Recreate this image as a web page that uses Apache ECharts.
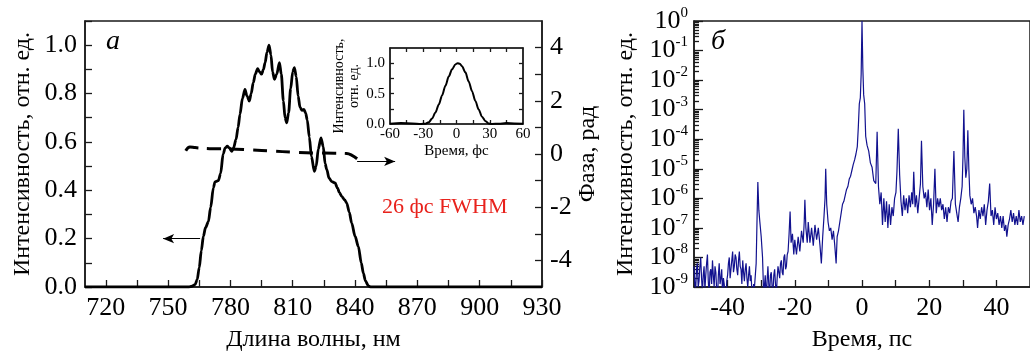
<!DOCTYPE html>
<html>
<head>
<meta charset="utf-8">
<script src="https://cdn.jsdelivr.net/npm/echarts@6.0.0/dist/echarts.min.js"></script>
<style>
html,body{margin:0;padding:0;background:#fff;}
#chart{width:1030px;height:363px;}
</style>
</head>
<body>
<div id="chart"></div>
<script>
var chart = echarts.init(document.getElementById('chart'));
var FONT = 'Liberation Serif';

// panel a: spectrum [nm, intensity]
var spectrum = [[710,0],[760,0],[761.5,0.003],[763,0.01],[764,0.03],[765,0.08],[766,0.15],[767,0.21],[768,0.245],
 [769.4,0.27],[770.5,0.33],[771.8,0.41],[772.6,0.435],[774.2,0.44],[775.3,0.47],[776.5,0.55],[777.5,0.575],
 [778.5,0.582],[779.5,0.575],[780.6,0.561],[781.5,0.575],[782.7,0.61],[783.7,0.66],[784.6,0.714],[785.8,0.78],
 [787,0.817],[788,0.79],[789.1,0.769],[790,0.8],[791,0.845],[792,0.88],[793.1,0.903],[794,0.89],[795,0.88],
 [795.9,0.9],[796.7,0.928],[797.6,0.97],[798.6,1.0],[799.5,0.96],[800.3,0.89],[801.2,0.859],[802.3,0.88],
 [803.6,0.928],[804.5,0.88],[805.5,0.77],[806.3,0.7],[807.1,0.679],[808,0.72],[809,0.82],[810,0.89],[810.8,0.907],
 [811.7,0.87],[812.6,0.79],[813.5,0.743],[814.5,0.73],[815.4,0.734],[816.2,0.72],[817,0.69],[818,0.62],[819,0.54],
 [820.4,0.478],[821.3,0.5],[822.3,0.57],[823.6,0.617],[824.7,0.58],[825.6,0.51],[826.4,0.485],[827.5,0.45],
 [828.8,0.436],[830.4,0.43],[831.5,0.41],[832.5,0.39],[833.6,0.375],[835,0.36],[836,0.347],[837.2,0.31],
 [838.4,0.264],[840,0.21],[841.6,0.167],[843,0.1],[844,0.057],[845,0.025],[846.4,0.005],[847.5,0],[930,0]];

// panel a: spectral phase [nm, rad]
var phase = [[758.5,0.12],[760.5,0.26],[763,0.24],[770,0.2],[780,0.19],[790,0.15],[800,0.11],[810,0.07],
 [820,0.04],[830,0.03],[836,0.02],[838.5,-0.05],[841,-0.18]];

// inset: pulse [fs, intensity]
var pulse = [[-60,0.005],[-50,0.015],[-40,0.01],[-32,0],[-28,0.005],[-25,0.03],[-22,0.09],[-19,0.19],[-16,0.32],
 [-13,0.47],[-10,0.63],[-7,0.78],[-4,0.9],[-1,0.98],[1,1.0],[3,0.99],[5,0.95],[8,0.85],[11,0.7],[14,0.54],
 [17,0.38],[20,0.24],[23,0.12],[26,0.05],[29,0.01],[32,0],[38,0.005],[45,0.015],[52,0.01],[60,0.005]];

// panel б: trace [ps, log10 intensity]
var traceLog = [[-50,-8.3],[-49.75,-8.9],[-49.5,-9.1],[-49.25,-8.4],[-49,-8.2],[-48.75,-9.0],[-48.5,-8.8],
 [-48.25,-8.3],[-48,-8.0],[-47.75,-8.7],[-47.5,-9.2],[-47.25,-8.6],[-47,-8.3],[-46.75,-9.1],[-46.5,-8.6],
 [-46.25,-8.2],[-46,-7.9],[-45.75,-8.8],[-45.5,-9.3],[-45.25,-8.5],[-45,-8.4],[-44.75,-8.9],[-44.5,-8.1],
 [-44.25,-8.6],[-44,-9.0],[-43.75,-8.3],[-43.5,-8.5],[-43.25,-9.1],[-43,-9.4],[-42.75,-8.6],[-42.5,-8.2],
 [-42.25,-8.9],[-42,-8.7],[-41.75,-8.4],[-41.5,-9.3],[-41.25,-8.7],[-41,-8.9],[-40.75,-9.4],[-40.5,-9.5],
 [-40.25,-8.8],[-40,-8.6],[-39.75,-8.2],[-39.5,-8.0],[-39.25,-8.7],[-39,-8.4],[-38.75,-8.1],[-38.5,-7.8],
 [-38.25,-8.5],[-38,-8.3],[-37.75,-7.9],[-37.5,-8.0],[-37.25,-8.4],[-37,-8.6],[-36.75,-8.1],[-36.5,-7.8],
 [-36.25,-8.3],[-36,-8.4],[-35.75,-8.9],[-35.5,-8.1],[-35.25,-8.5],[-35,-8.8],[-34.75,-8.4],[-34.5,-8.2],
 [-34.25,-8.7],[-34,-9.0],[-33.75,-8.6],[-33.5,-8.3],[-33.25,-8.8],[-33,-8.6],[-32.75,-9.2],[-32.5,-9.4],
 [-32.25,-8.9],[-32,-9.0],[-31.75,-8.6],[-31.5,-8.2],[-31.2,-6.5],[-31,-5.45],[-30.7,-6.4],[-30.4,-6.8],
 [-30,-7.3],[-29.6,-8.0],[-29.2,-9.5],[-29,-8.9],[-28.8,-8.6],[-28.6,-9.1],[-28.4,-9.2],[-28.2,-8.7],[-28,-8.3],
 [-27.75,-8.9],[-27.5,-9.3],[-27.25,-8.6],[-27,-8.5],[-26.75,-9.0],[-26.5,-9.2],[-26.25,-8.6],[-26,-8.4],
 [-25.75,-8.9],[-25.5,-9.3],[-25.25,-8.7],[-25,-8.3],[-24.75,-8.5],[-24.5,-8.7],[-24.25,-8.2],[-24,-8.1],
 [-23.75,-8.5],[-23.5,-8.6],[-23.25,-8.0],[-23,-7.9],[-22.75,-8.4],[-22.5,-8.3],[-22.25,-7.9],[-22,-7.8],
 [-21.7,-7.2],[-21.4,-6.45],
 [-21.1,-7.5],[-20.7,-7.2],[-20.3,-7.9],[-20,-7.4],[-19.5,-7.9],[-19,-7.3],[-18.5,-7.8],[-18,-7.1],[-17.5,-7.5],
 [-17.2,-6.8],[-17,-6.05],[-16.7,-7.0],[-16.3,-7.5],[-16,-6.8],[-15.5,-7.5],[-15,-7.0],[-14.5,-7.6],[-14,-6.9],
 [-13.5,-7.4],[-13,-7.0],[-12.5,-7.6],[-12.1,-8.2],[-11.7,-7.3],[-11.3,-6.6],[-11,-6.0],[-10.8,-5.0],[-10.5,-6.2],
 [-10.1,-6.8],[-9.7,-7.1],[-9.3,-7.0],[-8.9,-7.4],[-8.5,-7.1],[-8.1,-7.6],[-7.7,-8.2],[-7.4,-7.3],[-7,-7.1],
 [-6.6,-6.8],[-6.2,-6.5],[-5.8,-6.2],[-5.4,-6.1],[-5,-5.9],[-4.6,-5.7],[-4.2,-5.6],[-3.8,-5.35],[-3.4,-5.25],
 [-3,-5.05],[-2.6,-4.85],[-2.2,-4.7],[-1.8,-4.5],[-1.4,-4.25],[-1.1,-3.6],[-0.8,-2.8],[-0.5,-2.6],[-0.25,-1.8],
 [0,0],[0.25,-1.6],[0.5,-2.5],[0.8,-2.8],[1.1,-3.9],[1.5,-4.2],[2,-4.4],[2.5,-4.8],[3,-4.95],[3.5,-5.4],
 [4.1,-5.5],[4.5,-3.75],[4.9,-5.6],[5.3,-6.2],[5.7,-5.8],[6.1,-6.9],[6.5,-6.0],[6.9,-6.8],[7.3,-6.1],[7.7,-7.0],
 [8.1,-6.2],[8.5,-6.9],[8.9,-6.3],[9.3,-6.6],[9.7,-6.0],[10.1,-5.8],[10.4,-5.1],[10.8,-3.65],[11.2,-5.2],
 [11.6,-6.1],[12,-6.6],[12.4,-5.9],[12.8,-6.4],[13.2,-6.0],[13.6,-6.5],[14,-5.9],[14.4,-6.3],[14.8,-5.8],
 [15.1,-6.2],[15.4,-5.1],[15.8,-6.3],[16.2,-5.9],[16.6,-6.5],[17,-6.0],[17.4,-5.5],[17.7,-4.05],[18.1,-5.6],
 [18.5,-6.0],[18.9,-5.8],[19.3,-6.3],[19.7,-5.7],[20.1,-6.4],[20.5,-6.0],[20.9,-6.9],[21.3,-6.2],[21.7,-5.0],
 [22.1,-6.5],[22.5,-6.0],[22.9,-6.3],[23.3,-6.0],[23.7,-6.4],[24.1,-6.2],[24.5,-6.7],[24.9,-6.3],[25.3,-6.8],
 [25.7,-6.3],[26.1,-6.5],[26.5,-6.1],[26.9,-6.0],[27.35,-4.4],[27.8,-6.2],[28.2,-6.5],[28.6,-6.8],[29,-6.3],
 [29.4,-6.0],[29.8,-5.6],[30.05,-4.6],[30.3,-3.0],[30.6,-4.6],[30.9,-5.3],[31.2,-5.0],[31.5,-3.7],[31.8,-5.0],
 [32.1,-5.9],[32.5,-6.2],[32.9,-6.0],[33.3,-6.5],[33.7,-6.3],[34.1,-6.6],[34.4,-7.0],[34.8,-6.4],[35.2,-6.7],
 [35.6,-6.3],[36,-6.6],[36.4,-6.2],[36.8,-6.9],[37.2,-6.4],[37.6,-6.1],[38,-5.5],[38.4,-6.6],[38.8,-6.4],
 [39.2,-6.9],[39.6,-6.3],[40,-6.7],[40.4,-6.5],[40.8,-6.9],[41.2,-6.6],[41.6,-7.0],[42,-6.6],[42.4,-7.1],
 [42.8,-6.9],[43.1,-7.3],[43.5,-6.9],[43.9,-6.7],[44.3,-6.4],[44.7,-6.8],[45.1,-6.5],[45.5,-6.9],[45.9,-6.6],
 [46.3,-6.9],[46.7,-6.4],[47.1,-6.8],[47.5,-6.6],[47.9,-6.9],[48.3,-6.6]];

// tick labels
var waveLabels = [720,750,780,810,840,870,900,930];
var waveTicks = [720,735,750,765,780,795,810,825,840,855,870,885,900,915,930];
var intLabels = [0,0.2,0.4,0.6,0.8,1.0];
var intTicks = [0,0.1,0.2,0.3,0.4,0.5,0.6,0.7,0.8,0.9,1.0,1.1];
var phaseLabels = [-4,-2,0,2,4];
var phaseTicks = [-4,-3,-2,-1,0,1,2,3,4];
var fsLabels = [-60,-30,0,30,60];
var fsTicks = [-45,-30,-15,0,15,30,45];
var insetLabels = [0,0.5,1.0];
var insetTicks = [0.25,0.5,0.75,1.0];
var psLabels = [-40,-20,0,20,40];
var psTicks = [-40,-30,-20,-10,0,10,20,30,40];

// minor log ticks (2..9 in each decade), in decade units
var logMinor = [];
for (var k = -9; k < 0; k++) {
  for (var m = 2; m <= 9; m++) logMinor.push(k + Math.log10(m));
}

var AX = '#1a1a1a';
function line(){ return {onZero:false, lineStyle:{color:AX, width:1.5}}; }
function ticks(vals, len){ return {inside:true, length:len, customValues:vals, lineStyle:{color:AX, width:1.3}}; }
function labels(vals, size, margin, fmt){
  var o = {customValues:vals, color:'#000', fontFamily:FONT, fontSize:size, margin:margin};
  if (fmt) o.formatter = fmt;
  return o;
}
var oneDec = function(v){ return Number(v).toFixed(1); };
var nameStyle = function(size){ return {color:'#000', fontFamily:FONT, fontSize:size}; };

var option = {
  animation:false,
  textStyle:{fontFamily:FONT, color:'#000'},
  grid:[
    {left:85, top:21, width:457, height:266, show:true, borderColor:AX, borderWidth:1.5},
    {left:694, top:21, width:343, height:266, show:true, borderColor:AX, borderWidth:1.5},
    {left:390, top:48, width:133, height:76, show:true, borderColor:AX, borderWidth:1.2}
  ],
  xAxis:[
    {gridIndex:0, type:'value', min:710, max:930, axisLine:line(), axisTick:ticks(waveTicks,7),
     axisLabel:labels(waveLabels,26,8), splitLine:{show:false},
     name:'Длина волны, нм', nameLocation:'middle', nameGap:41, nameTextStyle:nameStyle(24)},
    {gridIndex:1, type:'value', min:-50, max:50, axisLine:line(), axisTick:ticks(psTicks,7),
     axisLabel:labels(psLabels,26,8), splitLine:{show:false},
     name:'Время, пс', nameLocation:'middle', nameGap:41, nameTextStyle:nameStyle(24)},
    {gridIndex:2, type:'value', min:-60, max:60, axisLine:line(), axisTick:ticks(fsTicks,4),
     axisLabel:labels(fsLabels,15,3), splitLine:{show:false},
     name:'Время, фс', nameLocation:'middle', nameGap:20, nameTextStyle:nameStyle(15)},
    {gridIndex:2, type:'value', position:'top', min:-60, max:60, axisLine:line(), axisTick:ticks(fsTicks,4),
     axisLabel:{show:false}, splitLine:{show:false}}
  ],
  yAxis:[
    {gridIndex:0, type:'value', position:'left', min:0, max:1.1, axisLine:line(), axisTick:ticks(intTicks,7),
     axisLabel:labels(intLabels,26,8,oneDec), splitLine:{show:false},
     name:'Интенсивность, отн. ед.', nameLocation:'middle', nameRotate:90, nameGap:50, nameTextStyle:nameStyle(24)},
    {gridIndex:0, type:'value', position:'right', min:-5, max:5, axisLine:line(), axisTick:ticks(phaseTicks,7),
     axisLabel:labels(phaseLabels,26,8), splitLine:{show:false},
     name:'Фаза, рад', nameLocation:'middle', nameRotate:90, nameGap:25, nameTextStyle:nameStyle(24)},
    {gridIndex:1, type:'log', logBase:10, position:'left', min:1e-9, max:1, interval:1, axisLine:line(),
     axisTick:{inside:true, length:9, lineStyle:{color:AX, width:1.3}},
     axisLabel:{color:'#000', fontFamily:FONT, margin:6,
       formatter:function(v){ return '{b|10}{s|' + Math.round(Math.log10(v)) + '}'; },
       rich:{b:{fontSize:26, fontFamily:FONT, color:'#000'}, s:{fontSize:15, fontFamily:FONT, color:'#000', padding:[0,0,16,0]}}},
     splitLine:{show:false},
     name:'Интенсивность, отн. ед.', nameLocation:'middle', nameRotate:90, nameGap:56, nameTextStyle:nameStyle(24)},
    {gridIndex:1, type:'value', position:'left', min:-9, max:0, axisLine:{show:false, onZero:false},
     axisTick:ticks(logMinor,5), axisLabel:{show:false}, splitLine:{show:false}},
    {gridIndex:2, type:'value', position:'left', min:0, max:1.25, axisLine:line(), axisTick:ticks(insetTicks,4),
     axisLabel:labels(insetLabels,15,5,oneDec), splitLine:{show:false},
     name:'Интенсивность,\nотн. ед.', nameLocation:'middle', nameRotate:90, nameGap:28,
     nameTextStyle:{color:'#000', fontFamily:FONT, fontSize:14, lineHeight:15}},
    {gridIndex:2, type:'value', position:'right', min:0, max:1.25, axisLine:line(), axisTick:ticks(insetTicks,4),
     axisLabel:{show:false}, splitLine:{show:false}}
  ],
  series:[
    {type:'line', xAxisIndex:0, yAxisIndex:0, data:spectrum, showSymbol:false, smooth:0.3, smoothMonotone:'x',
     lineStyle:{color:'#000', width:2.8}, z:3,
     markLine:{silent:true, symbol:['none','arrow'], symbolSize:[7,11], label:{show:false},
       lineStyle:{color:'#000', width:1, type:'solid'},
       data:[[{coord:[765.4,0.2]},{coord:[747.6,0.2]}]]}},
    {type:'line', xAxisIndex:0, yAxisIndex:1, data:phase, showSymbol:false, smooth:0.4,
     lineStyle:{color:'#000', width:3, type:[14,9]}, z:2,
     markLine:{silent:true, symbol:['none','arrow'], symbolSize:[7,11], label:{show:false},
       lineStyle:{color:'#000', width:1, type:'solid'},
       data:[[{coord:[841,-0.28]},{coord:[859.3,-0.28]}]]}},
    {type:'line', xAxisIndex:2, yAxisIndex:4, data:pulse, showSymbol:false, smooth:0.3, smoothMonotone:'x',
     lineStyle:{color:'#000', width:2}},
    {type:'line', xAxisIndex:1, yAxisIndex:2, showSymbol:false,
     data:traceLog.map(function(p){ return [p[0], Math.pow(10, p[1])]; }),
     lineStyle:{color:'#12128f', width:1.2}}
  ],
  graphic:[
    {type:'text', left:106, top:28, style:{text:'а', font:'italic 28px "Liberation Serif"', fill:'#000'}},
    {type:'text', left:711, top:28, style:{text:'б', font:'italic 28px "Liberation Serif"', fill:'#000'}},
    {type:'text', left:382, top:196, style:{text:'26 фс FWHM', font:'22px "Liberation Serif"', fill:'#e8221c'}}
  ]
};
chart.setOption(option);
</script>
</body>
</html>
